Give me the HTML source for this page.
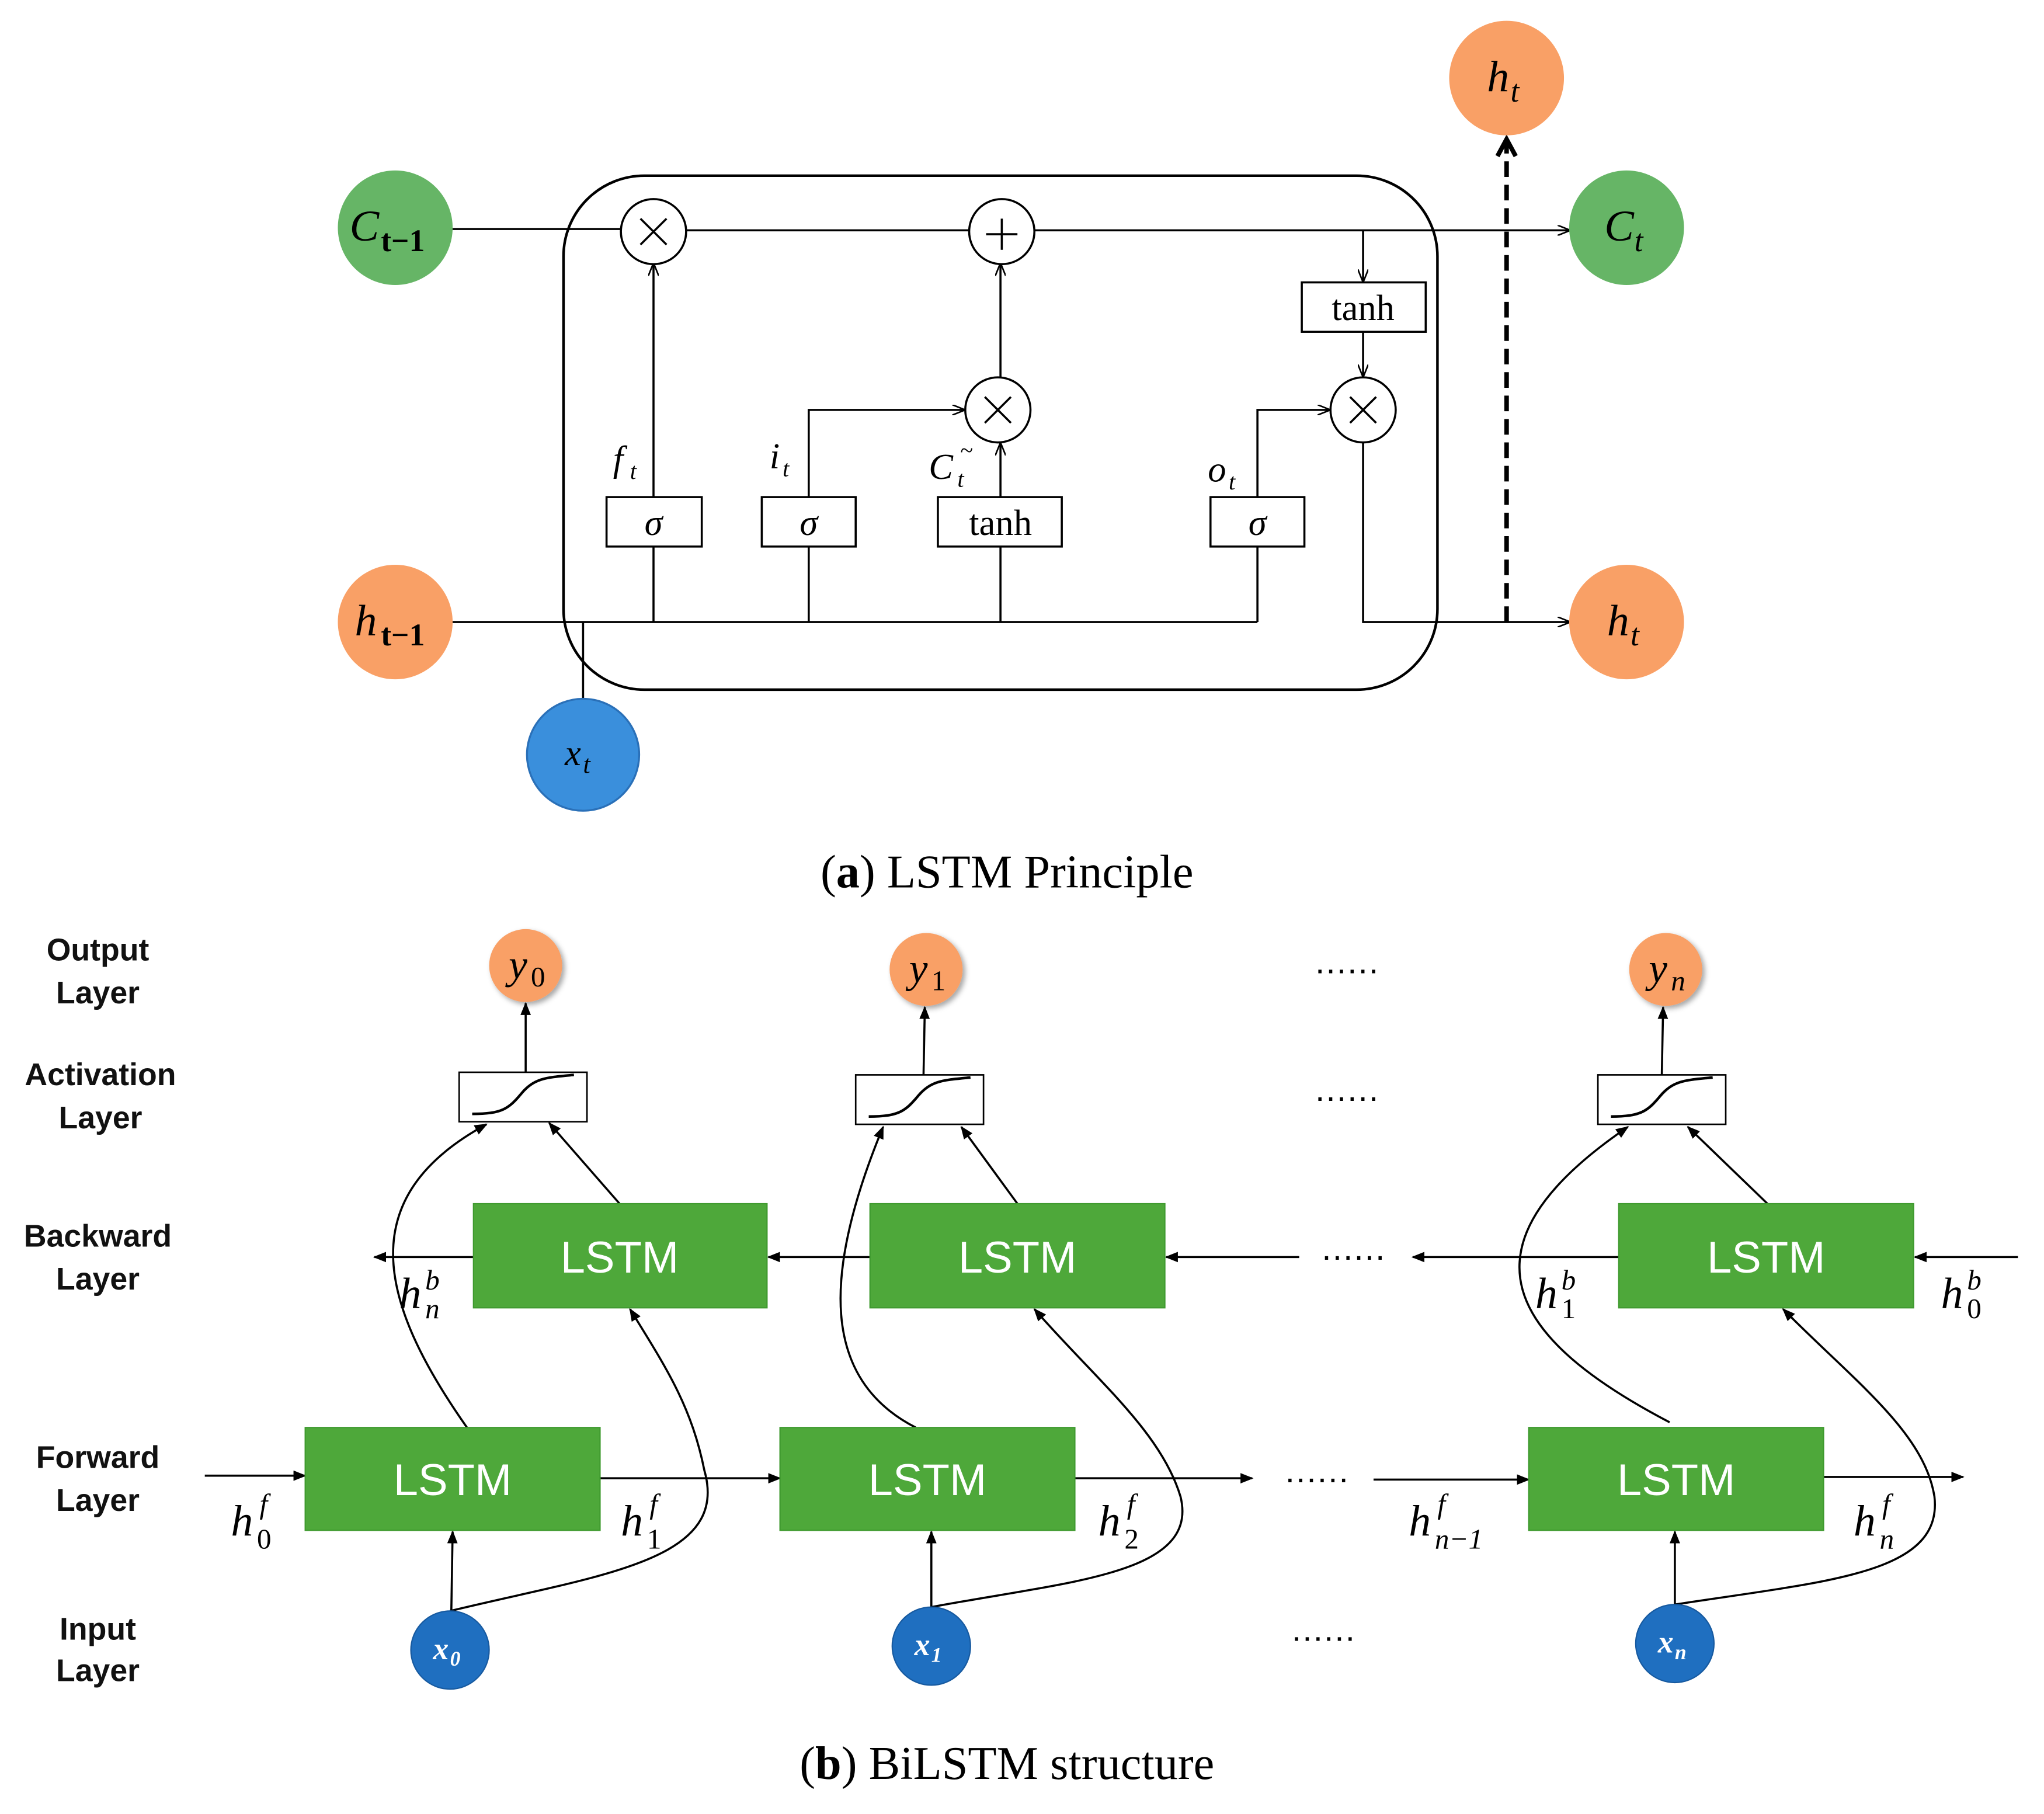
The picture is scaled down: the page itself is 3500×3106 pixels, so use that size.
<!DOCTYPE html>
<html><head><meta charset="utf-8"><style>html,body{margin:0;padding:0;background:#fff}svg{display:block}</style></head>
<body>
<svg width="3500" height="3106" viewBox="0 0 1567 1394" preserveAspectRatio="none" xmlns="http://www.w3.org/2000/svg">
<defs>
<marker id="a" markerWidth="10" markerHeight="8" refX="9" refY="4" orient="auto" markerUnits="userSpaceOnUse"><path d="M0,0 L10,4 L0,8" fill="none" stroke="#000" stroke-width="1.2"/></marker>
<marker id="b" markerWidth="10" markerHeight="8" refX="9" refY="4" orient="auto" markerUnits="userSpaceOnUse"><path d="M0,0 L10,4 L0,8 Z" fill="#000"/></marker>
<marker id="c" markerWidth="18" markerHeight="18" refX="14" refY="9" orient="auto" markerUnits="userSpaceOnUse"><path d="M2,2 L15,9 L2,16" fill="none" stroke="#000" stroke-width="3.5"/></marker>
<filter id="s"><feDropShadow dx="2" dy="2" stdDeviation="2" flood-opacity="0.35"/></filter>
</defs>
<g font-family="Liberation Serif, serif" font-style="italic">
<rect x="432" y="135" width="670" height="395" rx="62" fill="none" stroke="#000" stroke-width="2"/>
<g stroke="#000" stroke-width="1.6" fill="none">
<line x1="347" y1="176" x2="476" y2="176"/>
<line x1="526" y1="177" x2="743" y2="177"/>
<line x1="793" y1="177" x2="1203" y2="177" marker-end="url(#a)"/>
<line x1="1045" y1="177" x2="1045" y2="216" marker-end="url(#a)"/>
<line x1="1045" y1="255" x2="1045" y2="289" marker-end="url(#a)"/>
<line x1="347" y1="478" x2="964" y2="478"/>
<line x1="501" y1="478" x2="501" y2="420"/><line x1="620" y1="478" x2="620" y2="420"/>
<line x1="767" y1="478" x2="767" y2="420"/><line x1="964" y1="478" x2="964" y2="420"/>
<line x1="501" y1="382" x2="501" y2="203" marker-end="url(#a)"/>
<polyline points="620,382 620,315 739,315" marker-end="url(#a)"/>
<line x1="767" y1="382" x2="767" y2="341" marker-end="url(#a)"/>
<line x1="767" y1="290" x2="767" y2="203" marker-end="url(#a)"/>
<polyline points="964,382 964,315 1019,315" marker-end="url(#a)"/>
<polyline points="1045,340 1045,478 1203,478" marker-end="url(#a)"/>
<line x1="447" y1="537" x2="447" y2="478"/>
<line x1="1155" y1="478" x2="1155" y2="108" stroke-width="3.5" stroke-dasharray="12,6" marker-end="url(#c)"/>
<circle cx="501" cy="178" r="25" fill="#fff"/><path d="M491,168 L511,188 M511,168 L491,188"/>
<circle cx="768" cy="178" r="25" fill="#fff"/><path d="M756,180 L780,180 M768,168 L768,192"/>
<circle cx="765" cy="315" r="25" fill="#fff"/><path d="M755,305 L775,325 M775,305 L755,325"/>
<circle cx="1045" cy="315" r="25" fill="#fff"/><path d="M1035,305 L1055,325 M1055,305 L1035,325"/>
<rect x="998" y="217" width="95" height="38" fill="#fff"/>
<rect x="465" y="382" width="73" height="38" fill="#fff"/>
<rect x="584" y="382" width="72" height="38" fill="#fff"/>
<rect x="719" y="382" width="95" height="38" fill="#fff"/>
<rect x="928" y="382" width="72" height="38" fill="#fff"/>
</g>
<g font-size="28" text-anchor="middle" font-style="normal">
<text x="1045" y="246">tanh</text><text x="767" y="411">tanh</text>
</g>
<g font-size="28" text-anchor="middle">
<text x="501" y="411">σ</text><text x="620" y="411">σ</text><text x="964" y="411">σ</text>
</g>
<g font-size="28">
<text x="470" y="362">f</text><text x="483" y="368" font-size="18">t</text>
<text x="590" y="360">i</text><text x="600" y="366" font-size="18">t</text>
<text x="712" y="368">C</text><text x="734" y="374" font-size="18">t</text><text x="736" y="352" font-size="18">~</text>
<text x="926" y="370">o</text><text x="942" y="376" font-size="18">t</text>
</g>
<circle cx="303" cy="175" r="44" fill="#66b566"/>
<circle cx="1247" cy="175" r="44" fill="#66b566"/>
<circle cx="303" cy="478" r="44" fill="#f9a066"/>
<circle cx="1247" cy="478" r="44" fill="#f9a066"/>
<circle cx="1155" cy="60" r="44" fill="#f9a066"/>
<circle cx="447" cy="580" r="43" fill="#3a8fdc" stroke="#2a70b8" stroke-width="1.5"/>
<g font-size="34">
<text x="268" y="185">C</text><text x="292" y="193" font-size="24" font-style="normal" font-weight="bold">t−1</text>
<text x="272" y="488">h</text><text x="292" y="496" font-size="24" font-style="normal" font-weight="bold">t−1</text>
<text x="1230" y="185">C</text><text x="1253" y="193" font-size="24">t</text>
<text x="1232" y="488">h</text><text x="1250" y="496" font-size="24">t</text>
<text x="1140" y="70">h</text><text x="1158" y="78" font-size="24">t</text>
<text x="433" y="588" font-size="28">x</text><text x="447" y="594" font-size="20">t</text>
</g>
<text x="772" y="682" font-size="36" text-anchor="middle" font-style="normal">(<tspan font-weight="bold">a</tspan>) LSTM Principle</text>

<g font-family="Liberation Sans, sans-serif" font-style="normal" font-weight="bold" font-size="24" text-anchor="middle" fill="#111">
<text x="75" y="738">Output</text><text x="75" y="771">Layer</text>
<text x="77" y="834">Activation</text><text x="77" y="867">Layer</text>
<text x="75" y="958">Backward</text><text x="75" y="991">Layer</text>
<text x="75" y="1128">Forward</text><text x="75" y="1161">Layer</text>
<text x="75" y="1260">Input</text><text x="75" y="1292">Layer</text>
</g>
<g stroke="#000" stroke-width="1.6" fill="none">
<line x1="403" y1="824" x2="403" y2="771" marker-end="url(#b)"/>
<line x1="708" y1="826" x2="709" y2="774" marker-end="url(#b)"/>
<line x1="1274" y1="826" x2="1275" y2="774" marker-end="url(#b)"/>
<line x1="475" y1="925" x2="421" y2="863" marker-end="url(#b)"/>
<line x1="780" y1="925" x2="737" y2="866" marker-end="url(#b)"/>
<line x1="1355" y1="925" x2="1294" y2="866" marker-end="url(#b)"/>
<line x1="363" y1="966" x2="287" y2="966" marker-end="url(#b)"/>
<line x1="667" y1="966" x2="589" y2="966" marker-end="url(#b)"/>
<line x1="996" y1="966" x2="894" y2="966" marker-end="url(#b)"/>
<line x1="1241" y1="966" x2="1083" y2="966" marker-end="url(#b)"/>
<line x1="1547" y1="966" x2="1468" y2="966" marker-end="url(#b)"/>
<line x1="157" y1="1134" x2="234" y2="1134" marker-end="url(#b)"/>
<line x1="460" y1="1136" x2="598" y2="1136" marker-end="url(#b)"/>
<line x1="824" y1="1136" x2="960" y2="1136" marker-end="url(#b)"/>
<line x1="1053" y1="1137" x2="1172" y2="1137" marker-end="url(#b)"/>
<line x1="1398" y1="1135" x2="1505" y2="1135" marker-end="url(#b)"/>
<line x1="346" y1="1238" x2="347" y2="1177" marker-end="url(#b)"/>
<line x1="714" y1="1235" x2="714" y2="1177" marker-end="url(#b)"/>
<line x1="1284" y1="1233" x2="1284" y2="1177" marker-end="url(#b)"/>
<path d="M358,1097 C290,1000 270,920 373,864" marker-end="url(#b)"/>
<path d="M702,1097 C630,1060 630,980 677,866" marker-end="url(#b)"/>
<path d="M1280,1093 C1160,1030 1110,960 1248,866" marker-end="url(#b)"/>
<path d="M345,1238 C460,1210 560,1200 540,1130 C530,1080 510,1050 483,1006" marker-end="url(#b)"/>
<path d="M714,1235 C820,1215 920,1210 905,1150 C890,1100 840,1060 793,1006" marker-end="url(#b)"/>
<path d="M1284,1233 C1400,1215 1490,1210 1483,1150 C1475,1100 1420,1060 1367,1006" marker-end="url(#b)"/>
</g>
<g fill="#fff" stroke="#000" stroke-width="1.2">
<rect x="352" y="824" width="98" height="38"/><rect x="656" y="826" width="98" height="38"/><rect x="1225" y="826" width="98" height="38"/>
</g>
<g fill="none" stroke="#000" stroke-width="2">
<path d="M362,856 C385,856 390,852 400,840 C410,828 420,828 440,826"/>
<path d="M666,858 C689,858 694,854 704,842 C714,830 724,830 744,828"/>
<path d="M1235,858 C1258,858 1263,854 1273,842 C1283,830 1293,830 1313,828"/>
</g>
<g fill="#4ea83a" stroke="#3f9a2f" stroke-width="1">
<rect x="363" y="925" width="225" height="80"/><rect x="667" y="925" width="226" height="80"/><rect x="1241" y="925" width="226" height="80"/>
<rect x="234" y="1097" width="226" height="79"/><rect x="598" y="1097" width="226" height="79"/><rect x="1172" y="1097" width="226" height="79"/>
</g>
<g font-family="Liberation Sans, sans-serif" font-style="normal" font-size="34" fill="#fff" text-anchor="middle">
<text x="475" y="978">LSTM</text><text x="780" y="978">LSTM</text><text x="1354" y="978">LSTM</text>
<text x="347" y="1149">LSTM</text><text x="711" y="1149">LSTM</text><text x="1285" y="1149">LSTM</text>
</g>
<g filter="url(#s)" fill="#f9a066">
<circle cx="403" cy="742" r="28"/><circle cx="710" cy="745" r="28"/><circle cx="1277" cy="745" r="28"/>
</g>
<g fill="#1f6fc0" stroke="#175aa0" stroke-width="1">
<circle cx="345" cy="1268" r="30"/><circle cx="714" cy="1265" r="30"/><circle cx="1284" cy="1263" r="30"/>
</g>
<g font-size="32">
<text x="390" y="752">y</text><text x="407" y="758" font-size="22" font-style="normal">0</text>
<text x="697" y="755">y</text><text x="714" y="761" font-size="22" font-style="normal">1</text>
<text x="1264" y="755">y</text><text x="1281" y="761" font-size="22">n</text>
</g>
<g font-size="24" fill="#fff" font-weight="bold">
<text x="332" y="1275">x</text><text x="345" y="1280" font-size="16">0</text>
<text x="701" y="1272">x</text><text x="714" y="1277" font-size="16">1</text>
<text x="1271" y="1270">x</text><text x="1284" y="1275" font-size="16">n</text>
</g>
<g font-family="Liberation Sans, sans-serif" font-style="normal" font-size="26" text-anchor="middle" letter-spacing="1">
<text x="1033" y="748">......</text><text x="1033" y="846">......</text><text x="1038" y="968">......</text>
<text x="1010" y="1139">......</text><text x="1015" y="1261">......</text>
</g>
<g font-size="34">
<text x="306" y="1005">h</text><text x="326" y="991" font-size="22">b</text><text x="326" y="1013" font-size="22">n</text>
<text x="1177" y="1005">h</text><text x="1197" y="991" font-size="22">b</text><text x="1197" y="1013" font-size="22" font-style="normal">1</text>
<text x="1488" y="1005">h</text><text x="1508" y="991" font-size="22">b</text><text x="1508" y="1013" font-size="22" font-style="normal">0</text>
<text x="177" y="1180">h</text><text x="199" y="1163" font-size="22">f</text><text x="197" y="1190" font-size="22" font-style="normal">0</text>
<text x="476" y="1180">h</text><text x="498" y="1163" font-size="22">f</text><text x="496" y="1190" font-size="22" font-style="normal">1</text>
<text x="842" y="1180">h</text><text x="864" y="1163" font-size="22">f</text><text x="862" y="1190" font-size="22" font-style="normal">2</text>
<text x="1080" y="1180">h</text><text x="1102" y="1163" font-size="22">f</text><text x="1100" y="1190" font-size="22">n−1</text>
<text x="1421" y="1180">h</text><text x="1443" y="1163" font-size="22">f</text><text x="1441" y="1190" font-size="22">n</text>
</g>
<text x="772" y="1367" font-size="36" text-anchor="middle" font-style="normal">(<tspan font-weight="bold">b</tspan>) BiLSTM structure</text>
</g>
</svg>
</body></html>
